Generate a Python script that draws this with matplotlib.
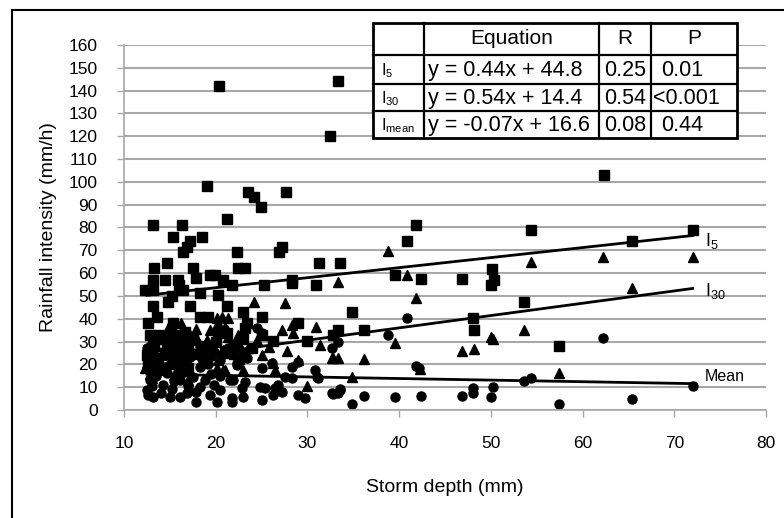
import numpy as np
import matplotlib.pyplot as plt
from matplotlib.lines import Line2D
from matplotlib.patches import Rectangle

plt.rcParams['font.family'] = ['Liberation Sans', 'DejaVu Sans']
plt.rcParams['mathtext.fontset'] = 'custom'
plt.rcParams['mathtext.rm'] = 'Liberation Sans'
plt.rcParams['mathtext.it'] = 'Liberation Sans:italic'

# I5 (squares)
i5 = [(20.4,142),(33.3,144),(32.5,120),(62.3,103),(19.1,98),(23.5,95.6),(24.2,93.4),(24.9,89),
      (27.7,95.6),(21.2,83.8),(13.2,81),(16.3,81),(15.3,76),(18.5,76),(17.2,74),(16.9,71.5),
      (16.4,69.3),(22.3,69.3),(26.9,69.3),(27.2,71.5),(13.3,62.3),(14.7,64.5),(17.5,62.3),
      (22.4,62.3),(23.2,62.3),(31.3,64.5),(33.6,64.5),(25.3,54.8),(28.3,57),(28.3,55.5),
      (30.9,54.8),(41.8,81),(40.9,74.1),(39.6,59.2),(42.4,57.4),(46.9,57.4),(50.1,61.8),
      (50.3,57),(50,55),(53.6,47.4),(54.4,79),(72,79),(65.4,74.1),(48,40.4),(48.2,35),
      (57.4,28),(34.9,43),(33.3,35),(36.2,35),(32.8,32.9),
      (13.2,57),(14.5,57),(15.9,57),(12.3,52.6),(13.2,52.6),(16.4,52.6),(18.3,51.3),(19.4,59.2),
      (19.9,59.2),(20.8,57),(20.3,50.4),(13.2,45.6),(17.2,45.6),(21.2,45.6),(12.6,38.2),
      (13.6,40.8),(15.3,38.2),(18.3,40.8),(19.2,40.8),(23,43),(25,40.8),(20.3,33.8),(21.2,33.8),
      (23.4,38.2),(25.1,32.9),(29,38.2),(30,30.3),(26.2,30.3),(13.7,32.9),(16.1,32.9),
      (12.8,25.4),(12.6,21),(14.7,28.5),(23.2,36),(15.2,50),(14.8,47.5),(16,55),(17.8,58),
      (21.8,55),
      (12.5,24),(13,27),(13.3,29),(13.6,22),(14.1,31),(14.5,25),(15,27.5),(15.5,30),(16,24),
      (16.5,28),(17,26),(17.5,30.5),(18,24.5),(18.6,28),(13,19),(14.2,17.5),(15.5,20),
      (17,18.5),(19,22),(19.5,27),(20,30),(21,25),(22,28),(22.5,22.5),(23,31),(24,27),
      (12.8,33),(15,33.5),(16.7,34)]

# I30 (triangles)
i30 = [(38.8,69.7),(40.9,59.2),(41.8,49.1),(54.4,64.9),(62.2,67.1),(72,67.1),(65.4,53.5),
       (39.6,29.4),(46.8,25.9),(48.2,26.8),(50,32),(50.2,31.1),(53.6,35),(57.4,16.2),(42.3,18),
       (33.3,56.1),(32.8,22.8),(33.3,22.8),(36.2,22.4),(34.9,14.5),(24.2,47.4),(27.6,46.9),
       (21.3,40.4),(22.4,32.9),(22.4,29.8),(27.2,35),(28.3,37.3),(28.4,33.8),(30.9,36.4),
       (31.4,28.5),(32.7,22.8),(25,24.1),(26.2,20.6),(26.5,17.5),(29,21.9),(30,10.5),(23,17.5),
       (21,17.5),(20.1,40.4),(19.4,35),(21.2,35),(22.3,31.6),(17.2,32.9),(12.3,18.4),(12.5,20.6),
       (20.7,40.8),(20.3,38.2),(21,36.4),(19.9,35.5),(21.3,32),(20.8,26.3),(20.3,21.9),
       (18.5,20.6),(20.8,17.5),(20.1,18.5),(12.8,25.4),(13.1,14),(14.5,32.9),(15.6,33.8),
       (13.5,28),(14,24),(15,22),(16,26),(16.8,29),(17.5,25),(18,31),(18.8,27),(19.5,24),
       (13,31),(14.8,36),(16.2,38),(17.8,35.5),(19,30.5),(22,24.5),(23.5,27),(24.5,30.5),
       (25.8,27.5),(27.8,26),(12.8,16),(15.5,15.5),(17,13)]

# Imean (circles)
imean = [(40.9,40.4),(38.8,32.9),(41.8,19.3),(42.2,18.4),(48,9.6),(48,7.5),(50.2,10.1),(50,5.7),
         (53.6,12.7),(54.4,14),(39.6,5.7),(42.4,6.1),(46.8,6.1),(57.4,2.6),(62.2,31.6),(65.4,4.8),
         (72,10.5),(33.3,29.8),(32.7,27.2),(33.6,9.2),(32.8,7),(33.3,7.3),(34.9,2.6),(36.2,6.1),
         (24.5,36),(25,33.8),(21.3,27.2),(22,26.5),(23.4,22.8),(22.3,19.7),(25,18.4),(28.3,18.9),
         (29,21),(30.8,17.5),(27.6,14.5),(28.3,14),(31.2,14),(23.2,12.3),(24.8,10.1),(25.4,9.6),
         (26.5,9.6),(26.8,11),(26.2,6.6),(27.2,7.9),(29,6.6),(29.7,5.3),(32.7,7.5),(33.6,8.8),
         (21.8,5.3),(25,4.4),(22.9,9.6),
         (13.2,5.7),(15,5.7),(16.1,5.7),(17.9,3.5),(20.1,3.5),(21.8,3.5),(19.4,6.6),(23,5.7),
         (12.5,8.8),(14,7.5),(16.9,7.5),(18.3,10.1),(20.5,8.8),(21.6,13.2),(12.8,13.2),(14.7,16.2),
         (16.1,13.2),(17.5,14.5),(18.3,18.9),(12.8,18.9),(15.8,20.6),(17.2,23.2),(13.6,23.2),
         (14.7,27.6),(16.1,29.4),(13.2,30.7),(18.3,27.6),(22.3,20.6),(23,25),(21.9,13.2),
         (26.1,20.6),(31,14.5),
         (13,10.5),(13.5,15),(14.2,11),(15.2,9),(15.5,12.5),(16.5,16.5),(17,10.5),(17.8,8),
         (18.8,13),(19.5,16),(19.8,11),(20.5,15),(12.6,6.5),(13.8,20),(14.5,19),(15,24.5),(16,18),
         (16.8,21),(18.5,22.5),(19.2,20),(19.8,25.5),(20.5,22),(12.5,27),(14,33),(15.5,26)]

# trend lines from the table: slope, intercept
fits = {'I5': (0.44, 44.8), 'I30': (0.54, 14.4), 'Imean': (-0.07, 16.6)}
fit_range = (12.5, 72)

header = ['', 'Equation', 'R', 'P']
row_labels = ['I$_5$', 'I$_{30}$', 'I$_{\\mathrm{mean}}$']
equations = ['y = 0.44x + 44.8', 'y = 0.54x + 14.4', 'y = -0.07x + 16.6']
r_values = ['0.25', '0.54', '0.08']
p_values = ['0.01', '<0.001', '0.44']

W, H = 784, 518
fig = plt.figure(figsize=(W/100, H/100), dpi=100)
ax = fig.add_axes([124/W, 1-410/H, 642/W, 365/H])

for pts, mk, ms in [(imean, 'o', 6.5), (i30, '^', 6.5), (i5, 's', 6.5)]:
    a = np.array(pts)
    ax.plot(a[:, 0], a[:, 1], linestyle='none', marker=mk, markersize=ms, color='black')

xx = np.array(fit_range)
for k, (m, b) in fits.items():
    ax.plot(xx, m*xx + b, color='black', linewidth=2)

ax.text(73.3, 74, 'I$_5$', fontsize=13, va='center')
ax.text(73.3, 52, 'I$_{30}$', fontsize=13, va='center')
ax.text(73.3, 14.5, 'Mean', fontsize=11.5, va='center')

ax.set_xlim(10, 80)
ax.set_ylim(0, 160)
ax.set_xticks(range(10, 81, 10))
ax.set_yticks(range(0, 161, 10))
ax.yaxis.grid(True, color='#a8a8a8', linewidth=1.5)
ax.set_axisbelow(True)
for s in ['top', 'right']:
    ax.spines[s].set_visible(False)
for s in ['left', 'bottom']:
    ax.spines[s].set_color('#a8a8a8')
    ax.spines[s].set_linewidth(1.2)
ax.tick_params(axis='both', colors='#a8a8a8', labelcolor='black', labelsize=12.5, length=5, width=1)
ax.tick_params(axis='x', pad=14)
ax.tick_params(axis='y', pad=14)
ax.set_xlabel('Storm depth (mm)', fontsize=14, labelpad=20)
ax.set_ylabel('Rainfall intensity (mm/h)', fontsize=14, labelpad=8)

# table drawn in figure pixels
fx = lambda px: px/W
fy = lambda py: 1 - py/H
cols = [373, 424, 599, 651, 737]
rows = [23, 55, 84, 111, 138]
fig.add_artist(Rectangle((fx(cols[0]), fy(rows[-1])), fx(cols[-1]) - fx(cols[0]),
                         fy(rows[0]) - fy(rows[-1]), facecolor='white', edgecolor='black',
                         linewidth=2, zorder=5))
for c in cols[1:-1]:
    fig.add_artist(Line2D([fx(c), fx(c)], [fy(rows[0]), fy(rows[-1])], color='black', linewidth=1.6, zorder=6))
for r in rows[1:-1]:
    fig.add_artist(Line2D([fx(cols[0]), fx(cols[-1])], [fy(r), fy(r)], color='black', linewidth=1.6, zorder=6))

hy = (rows[0] + rows[1]) / 2
for i, t in enumerate(header):
    if t:
        fig.text(fx((cols[i] + cols[i+1]) / 2), fy(hy), t, ha='center', va='center', fontsize=15, zorder=7)
for j in range(3):
    cy = (rows[j+1] + rows[j+2]) / 2 + 1
    fig.text(fx(cols[0] + 8), fy(cy), row_labels[j], ha='left', va='center', fontsize=11.5, zorder=7)
    fig.text(fx(cols[1] + 4), fy(cy), equations[j], ha='left', va='center', fontsize=15.5, zorder=7)
    fig.text(fx(cols[2] + 5), fy(cy), r_values[j], ha='left', va='center', fontsize=15.5, zorder=7)
    px = cols[3] + (2 if p_values[j].startswith('<') else 10)
    fig.text(fx(px), fy(cy), p_values[j], ha='left', va='center', fontsize=15.5, zorder=7)

# figure frame (top and left edges visible)
fig.add_artist(Line2D([12/W, 1], [1-10/H, 1-10/H], color='black', linewidth=1.5))
fig.add_artist(Line2D([12/W, 12/W], [0, 1-10/H], color='black', linewidth=1.5))

fig.savefig('out.png', dpi=100)
